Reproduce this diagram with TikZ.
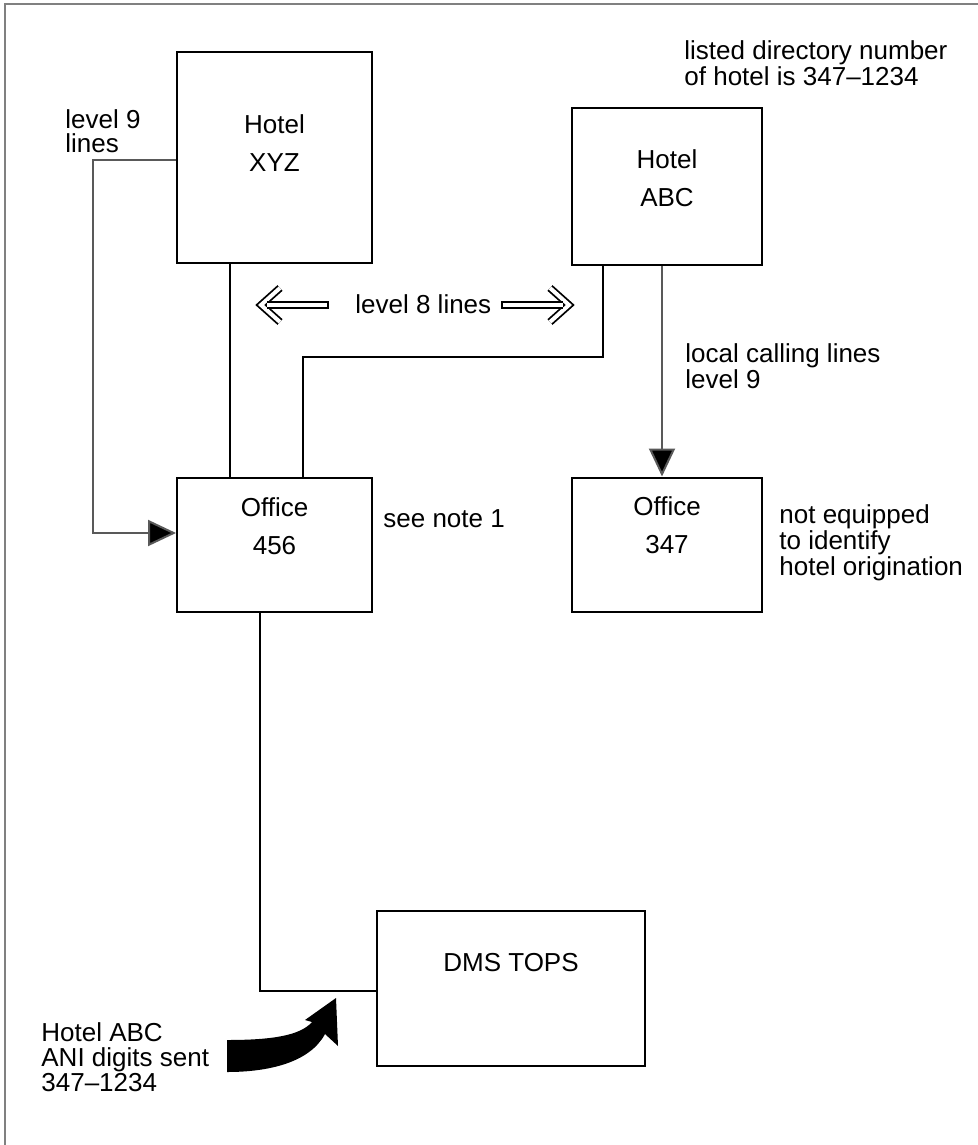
\documentclass[tikz,border=0pt]{standalone}
\usepackage{fontspec}
\setmainfont{Liberation Sans}
\usetikzlibrary{arrows.meta,positioning}

\begin{document}
\begin{tikzpicture}[x=0.5pt,y=-0.5pt,font=\fontsize{13}{13}\selectfont,
  box/.style={draw,line width=1pt,inner sep=0pt},
  boxtxt/.style={inner sep=0pt,align=center,font=\fontsize{13}{19}\selectfont},
  lbl/.style={inner sep=0pt,anchor=base west,align=left},
  feed/.style={gray!70!black,line width=1pt,-{Triangle[length=14pt,width=13pt,fill=black]}},
  hollow/.style={double,double distance=2pt,line width=0.9pt}]
  \useasboundingbox (0,0) rectangle (978,1145);
  \draw[gray,line width=0.8pt] (5,1145) -- (5,4) -- (978,4);

  \node[box,minimum width=97.5pt,minimum height=105pt] (xyz) at (274.5,157.5) {};
  \node[box,minimum width=95pt,minimum height=78.5pt] (abc) at (667,186.5) {};
  \node[box,minimum width=97.5pt,minimum height=67pt] (o456) at (274.5,545) {};
  \node[box,minimum width=95pt,minimum height=67pt] (o347) at (667,544.5) {};
  \node[box,minimum width=134pt,minimum height=77.5pt] (tops) at (511,988.5) {};

  \node[boxtxt] (xyzt) at ([yshift=7pt]xyz.center) {Hotel\\XYZ};
  \node[boxtxt] (abct) at ([yshift=4pt]abc.center) {Hotel\\ABC};
  \node[boxtxt] (o456t) at ([yshift=9.5pt]o456.center) {Office\\456};
  \node[boxtxt] (o347t) at ([yshift=9.5pt]o347.center) {Office\\347};
  \node[boxtxt] (topst) at ([yshift=13pt]tops.center) {DMS TOPS};

  \node[lbl] (t1) at (65,128) {level 9};
  \node[lbl] (t2) at (65,153) {lines};
  \node[lbl] (t3) at (684,60) {listed directory number};
  \node[lbl] (t4) at (684,86) {of hotel is 347--1234};
  \node[lbl] (t5) at (355,313) {level 8 lines};
  \node[lbl] (t6) at (685,362) {local calling lines};
  \node[lbl] (t7) at (685,388) {level 9};
  \node[lbl] (t8) at (383,527) {see note 1};
  \node[lbl] (t9) at (779,523) {not equipped};
  \node[lbl] (t10) at (779,549) {to identify};
  \node[lbl] (t11) at (779,575) {hotel origination};
  \node[lbl] (t12) at (41,1041) {Hotel ABC};
  \node[lbl] (t13) at (41,1066) {ANI digits sent};
  \node[lbl] (t14) at (41,1091) {347--1234};

  % lines into office 456
  \draw[line width=1pt] (xyz.south -| 230,0) -- (o456.north -| 230,0);
  \draw[line width=1pt] (abc.south -| 603,0) |- (303,357) -- (o456.north -| 303,0);
  \draw[feed] (xyz.west |- 0,160) -| (93,533) -- (o456.west |- 0,533);
  \draw[feed] (abc.south -| 662,0) -- (o347.north -| 662,0);
  \draw[line width=1pt] (o456.south -| 260,0) |- (tops.west |- 0,991);

  % level 8 arrows
  \draw[hollow] (280,288) -- (261,305) -- (280,322);
  \draw[hollow] (328,305) -- (267,305);
  \draw[line width=0.9pt] (328,301.2) -- (328,308.8);
  \draw[hollow] (550,288) -- (569,305) -- (550,322);
  \draw[hollow] (502,305) -- (563,305);
  \draw[line width=0.9pt] (502,301.2) -- (502,308.8);

  % fat arrow
  \fill (227,1040) .. controls (270,1040) and (300,1036) .. (312,1022)
    -- (305,1020) -- (336,998) -- (338,1046) -- (325,1034)
    .. controls (310,1062) and (270,1072) .. (227,1072) -- cycle;
\end{tikzpicture}
\end{document}
